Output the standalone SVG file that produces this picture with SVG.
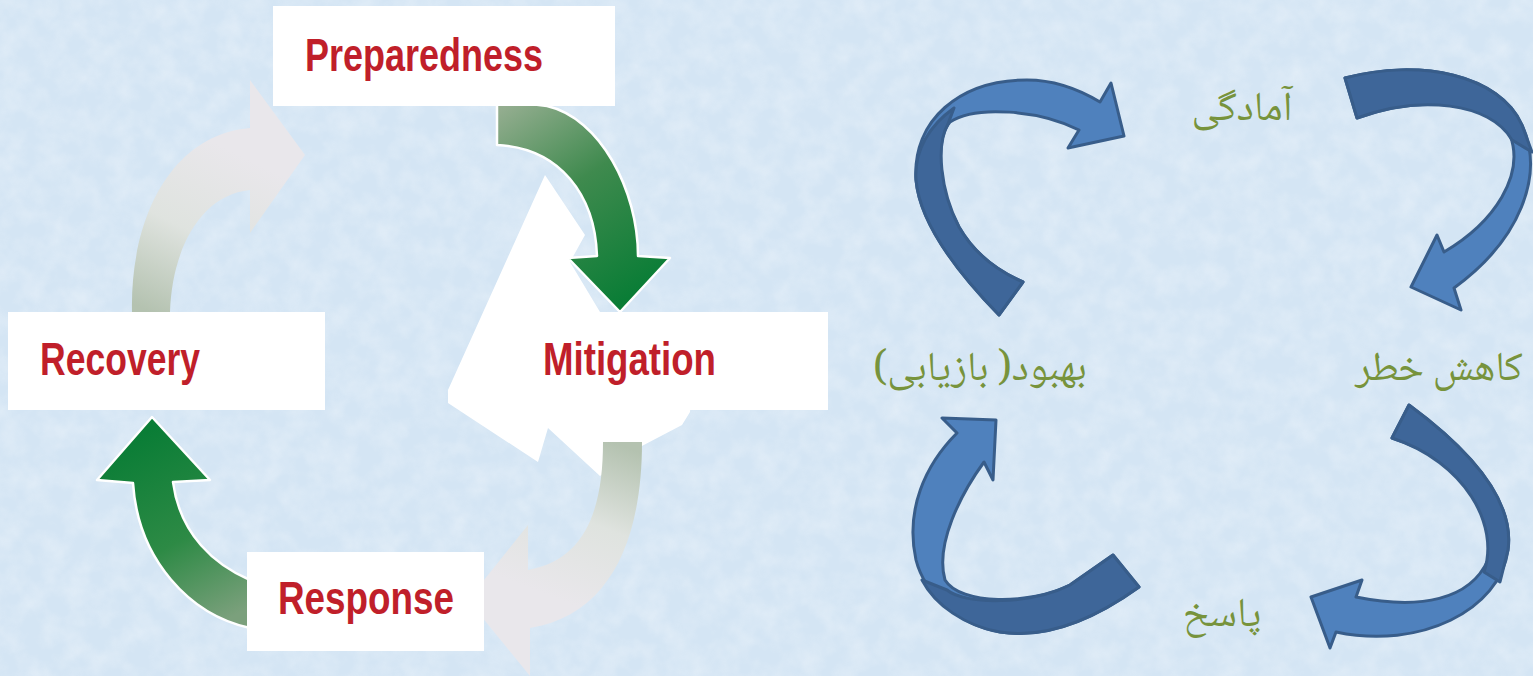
<svg xmlns="http://www.w3.org/2000/svg" width="1533" height="676" viewBox="0 0 1533 676">
<defs>
<style>
.box{fill:#ffffff}
.en{font-family:"Liberation Sans",Arial,sans-serif;font-weight:bold;font-size:46px;fill:#c01f2a}
.fa{font-family:"Noto Naskh Arabic","Noto Sans Arabic","DejaVu Sans",sans-serif;font-size:41px;fill:#77933c}
.ba{stroke:#385d8a;stroke-width:3;stroke-linejoin:round}
.lt{fill:#4f81bd}
.dk{fill:#3e6699}
.gr{stroke:#ffffff;stroke-width:2.5;stroke-linejoin:round}
</style>
<filter id="tex" x="0" y="0" width="100%" height="100%">
<feTurbulence type="fractalNoise" baseFrequency="0.045" numOctaves="3" seed="7" result="n"/>
<feColorMatrix in="n" type="matrix" values="0 0 0 0 1  0 0 0 0 1  0 0 0 0 1  0.9 0 0 0 -0.3"/>
</filter>
<linearGradient id="g1" gradientUnits="userSpaceOnUse" x1="500" y1="110" x2="625" y2="300">
<stop offset="0" stop-color="#93ad8f"/><stop offset="0.45" stop-color="#3f8a4e"/><stop offset="1" stop-color="#0a7d36"/>
</linearGradient>
<linearGradient id="g2" gradientUnits="userSpaceOnUse" x1="245" y1="610" x2="150" y2="430">
<stop offset="0" stop-color="#7ba07c"/><stop offset="0.45" stop-color="#2d8a45"/><stop offset="1" stop-color="#0a7d36"/>
</linearGradient>
<linearGradient id="g3" gradientUnits="userSpaceOnUse" x1="150" y1="312" x2="230" y2="150">
<stop offset="0" stop-color="#b4c2b0"/><stop offset="0.5" stop-color="#dfe3df"/><stop offset="1" stop-color="#e9e7eb"/>
</linearGradient>
<linearGradient id="g4" gradientUnits="userSpaceOnUse" x1="620" y1="445" x2="560" y2="600">
<stop offset="0" stop-color="#b4c2b0"/><stop offset="0.5" stop-color="#dfe3df"/><stop offset="1" stop-color="#e9e7eb"/>
</linearGradient>
</defs>

<rect x="0" y="0" width="1533" height="676" fill="#d4e5f4"/>
<rect x="0" y="0" width="1533" height="676" filter="url(#tex)" opacity="0.55"/>

<g id="white-shape">
<polygon fill="#ffffff" points="545,175 585,235 570,262 600,312 700,312 690,412 682,425 640,447 600,476 548,428 538,462 448,403 448,390"/>
</g>

<g id="connectors">
<path id="arrow-recovery-preparedness" fill="url(#g3)" d="M132,312 C130,220 170,135 250,128 L250,80 L305,155 L250,233 L250,190 C200,195 172,250 170,312 Z"/>
<path id="arrow-mitigation-response" fill="url(#g4)" d="M603,442 L642,442 C642,540 610,615 530,628 L530,676 L468,600 L528,525 L528,570 C585,560 603,510 603,442 Z"/>
<path id="arrow-preparedness-mitigation" class="gr" fill="url(#g1)" d="M497,100 L547,106 C600,118 638,190 638,256 L670,258 L620,312 L568,258 L597,256 C595,195 560,148 497,145 Z"/>
<path id="arrow-response-recovery" class="gr" fill="url(#g2)" d="M250,580 C215,565 180,535 173,482 L210,480 L152,417 L97,480 L133,483 C138,560 190,615 250,628 Z"/>

<g id="arrow-fa-1">
<path class="ba lt" d="M999,315 C960,275 920,225 916,180 C912,120 960,80 1027,80 C1055,80 1080,90 1100,102 L1111,83 L1124,136 L1068,148 L1079,130 C1040,110 975,105 950,122 C935,140 938,190 959,227 C975,255 1000,272 1023,282 Z"/>
<path class="ba dk" d="M1023,282 C1000,272 975,255 959,227 C940,190 936,145 948,124 L954,108 C930,125 914,150 916,180 C920,225 960,275 999,315 Z"/>
</g>
<g id="arrow-fa-2">
<path class="ba lt" d="M1345,78 C1420,58 1500,75 1522,125 C1545,175 1520,240 1454,288 L1461,310 L1411,287 L1437,235 L1444,252 C1495,222 1525,175 1510,135 C1490,100 1420,95 1357,118 Z"/>
<path class="ba dk" d="M1345,78 C1420,58 1500,75 1522,125 L1532,152 L1512,140 C1490,102 1420,95 1357,118 Z"/>
</g>
<g id="arrow-fa-3">
<path class="ba lt" d="M1139,587 C1100,615 1050,640 1000,632 C960,625 925,595 916,560 C905,510 925,465 957,433 L942,418 L996,420 L993,480 L984,462 C960,495 935,545 945,580 C960,605 1030,605 1070,585 L1113,555 Z"/>
<path class="ba dk" d="M1139,587 C1100,615 1050,640 1000,632 C965,626 935,605 922,580 L947,590 C965,605 1030,605 1070,585 L1113,555 Z"/>
</g>
<g id="arrow-fa-4">
<path class="ba lt" d="M1409,405 C1470,450 1515,500 1508,550 C1500,610 1420,650 1336,632 L1330,648 L1311,597 L1362,580 L1356,597 C1420,610 1470,600 1488,560 C1500,510 1460,460 1392,438 Z"/>
<path class="ba dk" d="M1409,405 C1470,450 1515,500 1508,550 L1500,582 L1484,572 C1500,525 1465,462 1392,438 Z"/>
</g>
</g>

<g id="node-preparedness">
<rect class="box" x="273" y="6" width="342" height="100"/>
<text class="en" x="305" y="71" textLength="238" lengthAdjust="spacingAndGlyphs">Preparedness</text>
</g>
<g id="node-mitigation">
<rect class="box" x="520" y="312" width="308" height="98"/>
<text class="en" x="543" y="375" textLength="173" lengthAdjust="spacingAndGlyphs">Mitigation</text>
</g>
<g id="node-recovery">
<rect class="box" x="8" y="312" width="317" height="98"/>
<text class="en" x="40" y="375" textLength="160" lengthAdjust="spacingAndGlyphs">Recovery</text>
</g>
<g id="node-response">
<rect class="box" x="247" y="552" width="237" height="99"/>
<text class="en" x="278" y="614" textLength="176" lengthAdjust="spacingAndGlyphs">Response</text>
</g>

<g id="node-fa-preparedness">
<text class="fa" x="1242" y="120" text-anchor="middle" direction="rtl">آمادگی</text>
</g>
<g id="node-fa-mitigation">
<text class="fa" x="1439" y="380" text-anchor="middle" direction="rtl">کاهش خطر</text>
</g>
<g id="node-fa-recovery">
<text class="fa" x="980" y="380" text-anchor="middle" direction="rtl">بهبود( بازیابی)</text>
</g>
<g id="node-fa-response">
<text class="fa" x="1222" y="626" text-anchor="middle" direction="rtl">پاسخ</text>
</g>
</svg>
